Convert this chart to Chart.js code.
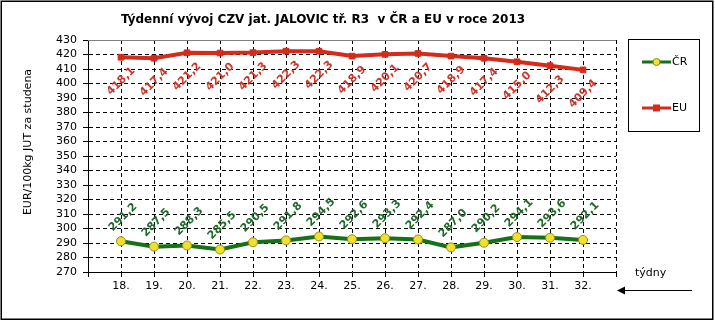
<!DOCTYPE html>
<html>
<head>
<meta charset="utf-8">
<script src="https://cdn.jsdelivr.net/npm/chart.js@4"></script>
<style>
html,body{margin:0;padding:0;background:#fff;}
canvas{display:block;}
</style>
</head>
<body>
<canvas id="c" width="715" height="322"></canvas>
<script>
const weeks = ['18.','19.','20.','21.','22.','23.','24.','25.','26.','27.','28.','29.','30.','31.','32.'];
const crValues = [291.2,287.5,288.3,285.5,290.5,291.8,294.5,292.6,293.3,292.4,287.0,290.2,294.1,293.6,292.1];
const euValues = [418.1,417.4,421.2,421.0,421.3,422.3,422.3,418.9,420.1,420.7,418.9,417.4,415.0,412.3,409.4];
const yTicks = {min:270, max:430, step:10};
const titleText = 'Týdenní vývoj CZV jat. JALOVIC tř. R3  v ČR a EU v roce 2013';
const yTitle = 'EUR/100kg JUT za studena';
const xTitle = 'týdny';
const seriesNames = ['ČR','EU'];

const labels = [''].concat(weeks, ['']);
const pad = arr => [null].concat(arr, [null]);
const fmt = v => v.toFixed(1).replace('.', ',');

const GREEN = '#177117';
const RED = '#d42b1b';
const FONT = "'DejaVu Sans', Verdana, sans-serif";

const deco = {
  id:'deco',
  beforeDraw(chart){
    const c = chart.ctx;
    c.save();
    c.fillStyle='#fff';
    c.fillRect(0,0,chart.width,chart.height);
    c.restore();
  },
  afterDatasetsDraw(chart){
    const c = chart.ctx;
    const ca = chart.chartArea;
    c.save();
    c.strokeStyle='#808080'; c.lineWidth=1;
    c.beginPath(); c.moveTo(ca.left, ca.top+0.5); c.lineTo(ca.right, ca.top+0.5); c.stroke();
    c.font = "bold 11px " + FONT;
    c.textAlign='center'; c.textBaseline='middle';
    chart.data.datasets.forEach((ds, i) => {
      const meta = chart.getDatasetMeta(i);
      meta.data.forEach((pt, j) => {
        const v = ds.data[j];
        if (v === null || v === undefined) return;
        c.save();
        if (i === 0) { c.translate(pt.x + 2, pt.y - 24); c.fillStyle = '#1f6a2a'; }
        else { c.translate(pt.x, pt.y + 24); c.fillStyle = '#c8362a'; }
        c.rotate(-Math.PI/4);
        c.fillText(fmt(v), 0, 0);
        c.restore();
      });
    });
    c.restore();
  },
  afterDraw(chart){
    const c = chart.ctx;
    c.save();
    c.strokeStyle='#000'; c.lineWidth=1.5;
    c.strokeRect(1.25,1.25,711.5,318);
    c.fillStyle='#000';
    c.font = "bold 12px " + FONT;
    c.textAlign='center'; c.textBaseline='middle';
    c.fillText(titleText, 323, 20);
    c.save();
    c.translate(28, 142);
    c.rotate(-Math.PI/2);
    c.font = "11px " + FONT;
    c.fillText(yTitle, 0, 0);
    c.restore();
    c.font = "11px " + FONT;
    c.textAlign='left';
    c.fillText(xTitle, 635, 273);
    c.strokeStyle='#000'; c.lineWidth=1;
    c.beginPath(); c.moveTo(622, 290.5); c.lineTo(692, 290.5); c.stroke();
    c.beginPath(); c.moveTo(617, 290.5); c.lineTo(625, 286.5); c.lineTo(625, 294.5); c.closePath(); c.fill();
    c.fillStyle='#fff';
    c.fillRect(628,39,71,92);
    c.strokeStyle='#000'; c.lineWidth=1;
    c.strokeRect(628.5,39.5,71,92);
    const ents = [{y:62, col:GREEN, name:seriesNames[0], circle:true},{y:108, col:RED, name:seriesNames[1], circle:false}];
    ents.forEach(e => {
      c.strokeStyle=e.col; c.lineWidth=3;
      c.beginPath(); c.moveTo(642, e.y); c.lineTo(671, e.y); c.stroke();
      if (e.circle) {
        c.fillStyle='#f0e030'; c.strokeStyle='#8a8a10'; c.lineWidth=1;
        c.beginPath(); c.arc(656.5, e.y, 3.5, 0, Math.PI*2); c.fill(); c.stroke();
      } else {
        c.fillStyle=RED;
        c.fillRect(653, e.y-3.5, 7, 7);
      }
      c.fillStyle='#000'; c.font = "11px " + FONT; c.textAlign='left'; c.textBaseline='middle';
      c.fillText(e.name, 672, e.y);
    });
    c.restore();
  }
};

new Chart(document.getElementById('c'), {
  type:'line',
  data:{
    labels: labels,
    datasets:[
      {label:seriesNames[0], data:pad(crValues), borderColor:GREEN, borderWidth:4,
       pointStyle:'circle', pointRadius:4.5, pointBackgroundColor:'#f0e030', pointBorderColor:'#9a9010', pointBorderWidth:1,
       tension:0, spanGaps:false},
      {label:seriesNames[1], data:pad(euValues), borderColor:RED, borderWidth:4,
       pointStyle:'rect', pointRadius:4, pointBackgroundColor:RED, pointBorderColor:RED, pointBorderWidth:1,
       tension:0, spanGaps:false}
    ]
  },
  options:{
    responsive:false, animation:false, devicePixelRatio:1,
    layout:{padding:{left:0, top:40, right:99, bottom:0}},
    plugins:{legend:{display:false}, title:{display:false}, tooltip:{enabled:false}},
    scales:{
      x:{
        offset:false,
        grid:{color:'#000', lineWidth:1, drawTicks:true, tickLength:5, tickColor:'#000', tickBorderDash:[]},
        border:{display:true, color:'#000', width:1, dash:[4,3]},
        ticks:{font:{family:FONT, size:11}, color:'#000', padding:3, maxRotation:0, autoSkip:false},
        afterFit(s){ s.height = 50; }
      },
      y:{
        min:yTicks.min, max:yTicks.max,
        grid:{color:'#000', lineWidth:1, drawTicks:true, tickLength:5, tickColor:'#000', tickBorderDash:[]},
        border:{display:true, color:'#000', width:1, dash:[4,3]},
        ticks:{stepSize:yTicks.step, autoSkip:false, font:{family:FONT, size:11}, color:'#000', padding:6},
        afterFit(s){ s.width = 88; }
      }
    }
  },
  plugins:[deco]
});
</script>
</body>
</html>
